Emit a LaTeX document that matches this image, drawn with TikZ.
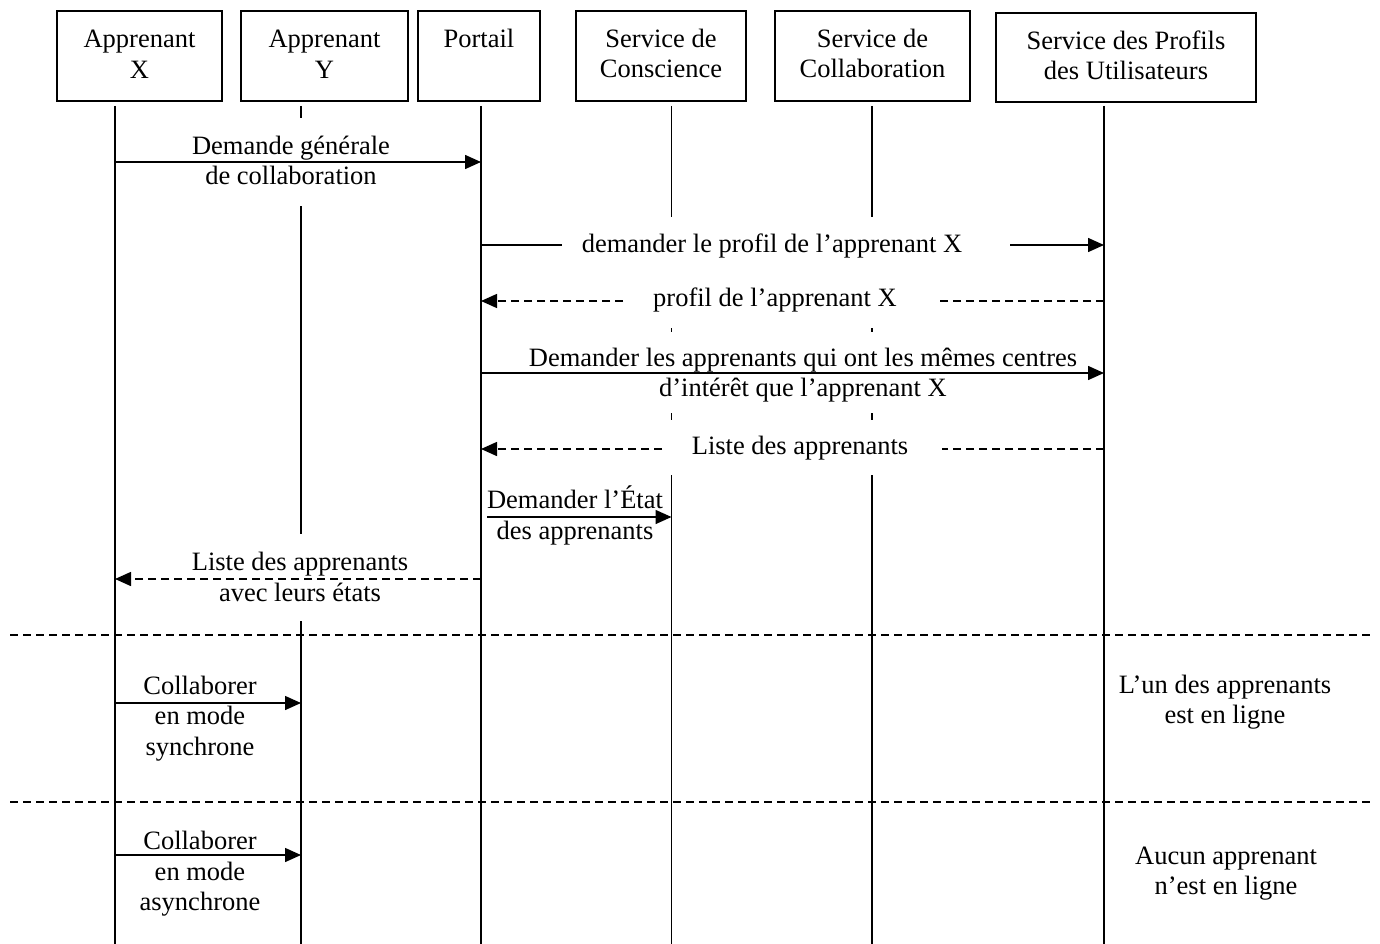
\documentclass[tikz,border=0pt]{standalone}
\usepackage{fontspec}
\setmainfont{Liberation Serif}
\usetikzlibrary{arrows.meta}
\begin{document}
\begin{tikzpicture}[x=1pt,y=-1pt,
  every node/.style={inner sep=0pt, outer sep=0pt},
  txt/.style={font=\fontsize{26.5}{30.5}\selectfont, align=center,
    execute at begin node=\strut, execute at end node=\strut},
  actor/.style={draw, line width=1.6pt, minimum height=90pt},
  life/.style={line width=1.5pt},
  mask/.style={fill=white},
  msg/.style={line width=1.5pt, -{Triangle[length=16pt,width=14pt]}},
  reply/.style={msg, dash pattern=on 8pt off 5pt},
  sep/.style={line width=1.3pt, dash pattern=on 8pt off 5pt}
]
% page
\fill[white] (0,0) rectangle (1380,944);
\useasboundingbox (0,0) rectangle (1380,944);

% lifeline heads
\coordinate (lX) at (115,106);
\coordinate (lY) at (301,106);
\coordinate (lP) at (481,106);
\coordinate (lC) at (671.5,106);
\coordinate (lB) at (872,106);
\coordinate (lU) at (1104,106);
\coordinate (bottom) at (0,944);

% lifelines
\foreach \l in {lX,lY,lP,lC,lB,lU}
  \draw[life] (\l) -- (\l |- bottom);

% separators between the two cases
\coordinate (s1a) at (10,635);  \coordinate (s1b) at (1373,635);
\coordinate (s2a) at (10,802);  \coordinate (s2b) at (1373,802);
\draw[sep] (s1a) -- (s1b);
\draw[sep] (s2a) -- (s2b);

% messages hidden behind their labels
\draw[msg]   (lP |- 0,245) -- (lU |- 0,245);
\draw[reply] (lU |- 0,301) -- (lP |- 0,301);
\draw[reply] (lU |- 0,449) -- (lP |- 0,449);

% white label backgrounds
\node[mask, minimum width=212pt, minimum height=88pt] (k1) at (291,162) {};
\node[mask, minimum width=448pt, minimum height=56pt] (k2) at (786,245) {};
\node[mask, minimum width=309pt, minimum height=56pt] (k3) at (782.5,300) {};
\node[mask, minimum width=580pt, minimum height=81pt] (k4) at (803,372.5) {};
\node[mask, minimum width=279pt, minimum height=55pt] (k5) at (802.5,447.5) {};
\node[mask, minimum width=232pt, minimum height=87pt] (k7) at (300,577.5) {};

% message labels
\node[txt] (t1) at (291,165) {Demande générale\\de collaboration};
\node[txt] (t2) at (772,246) {demander le profil de l’apprenant X};
\node[txt] (t3) at (775,300) {profil de l’apprenant X};
\node[txt] (t4) at (803,377) {Demander les apprenants qui ont les mêmes centres\\d’intérêt que l’apprenant X};
\node[txt] (t5) at (800,448.5) {Liste des apprenants};
\node[txt] (t6) at (575,517) {Demander l’État\\des apprenants};
\node[txt] (t7) at (300,581.5) {Liste des apprenants\\avec leurs états};
\node[txt] (t8) at (200,720) {Collaborer\\en mode\\synchrone};
\node[txt] (t9) at (200,875.5) {Collaborer\\en mode\\asynchrone};
\node[txt] (n1) at (1225,704) {L’un des apprenants\\est en ligne};
\node[txt] (n2) at (1226,875.5) {Aucun apprenant\\n’est en ligne};

% messages drawn over their labels
\coordinate (m6s) at (487,517);
\draw[msg]   (lX |- 0,162) -- (lP |- 0,162);
\draw[msg]   (lP |- 0,373) -- (lU |- 0,373);
\draw[msg]   (m6s) -- (lC |- m6s);
\draw[reply] (lP |- 0,579) -- (lX |- 0,579);
\draw[msg]   (lX |- 0,703) -- (lY |- 0,703);
\draw[msg]   (lX |- 0,855) -- (lY |- 0,855);

% participants
\node[actor, minimum width=165pt] (bX) at (139.5,56) {};
\node[actor, minimum width=167pt] (bY) at (324.5,56) {};
\node[actor, minimum width=122pt] (bP) at (479,56) {};
\node[actor, minimum width=170pt] (bC) at (661,56) {};
\node[actor, minimum width=195pt] (bB) at (872.5,56) {};
\node[actor, minimum width=260pt, minimum height=89pt] (bU) at (1126,57.5) {};
\node[txt] (pX) at (bX.center |- 0,59) {Apprenant\\X};
\node[txt] (pY) at (bY.center |- 0,59) {Apprenant\\Y};
\node[txt] (pP) at (bP.center |- 0,58) {Portail\\\strut};
\node[txt] (pC) at (bC.center |- 0,58) {Service de\\Conscience};
\node[txt] (pB) at (bB.center |- 0,58) {Service de\\Collaboration};
\node[txt] (pU) at (bU.center |- 0,59.5) {Service des Profils\\des Utilisateurs};
\end{tikzpicture}
\end{document}
